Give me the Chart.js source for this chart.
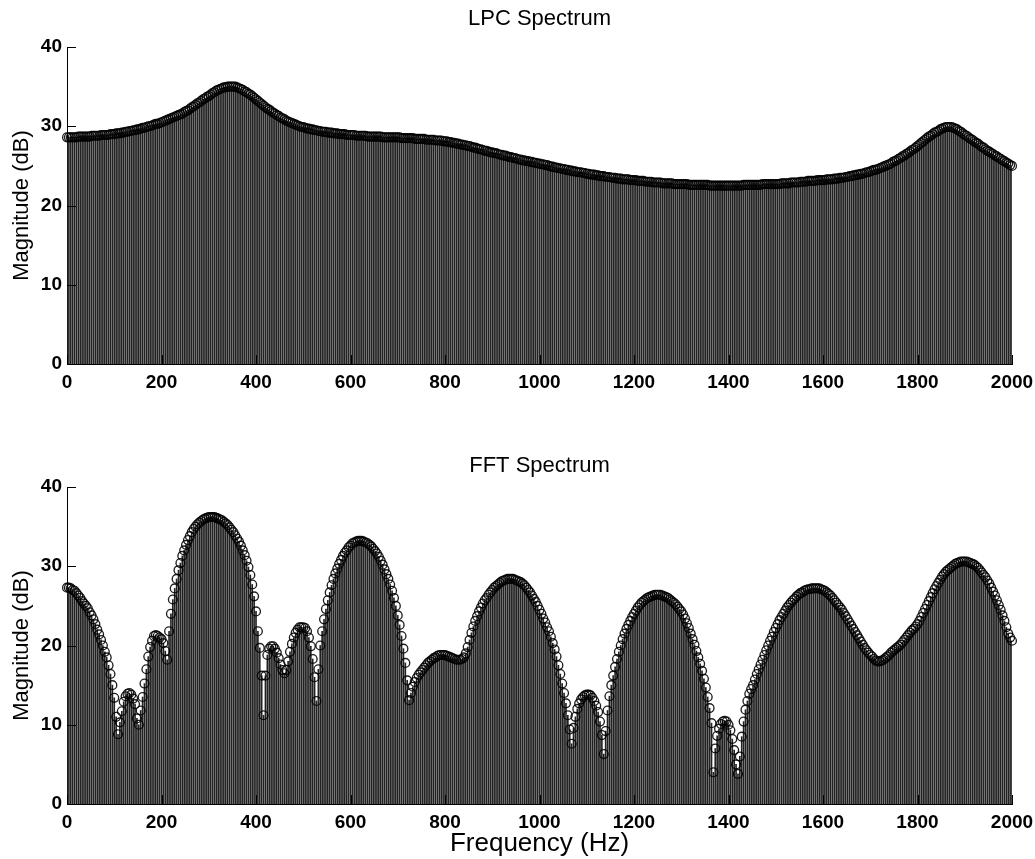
<!DOCTYPE html>
<html><head><meta charset="utf-8">
<script src="https://cdn.jsdelivr.net/npm/chart.js@4.4.0/dist/chart.umd.min.js"></script>
<style>
html,body{margin:0;padding:0;background:#fff;overflow:hidden;}
#top{position:absolute;left:0;top:0;width:1035px;height:430px;}
#bot{position:absolute;left:0;top:430px;width:1035px;height:429px;}
</style></head><body>
<div id="top"><canvas id="c1"></canvas></div>
<div id="bot"><canvas id="c2"></canvas></div>
<script>
// frequency grid (Hz), 4 Hz spacing, 0..2000
const freqHz = Array.from({length: 501}, (_, i) => i * 4);

const lpcDb = [
28.6,28.6,28.6,28.6,28.6,28.6,28.7,28.7,28.7,28.7,28.7,28.7,28.7,28.8,28.8,28.8,28.8,28.8,28.9,28.9,28.9,28.9,28.9,29.0,29.0,
29.0,29.1,29.1,29.1,29.2,29.2,29.3,29.3,29.4,29.4,29.5,29.5,29.6,29.6,29.7,29.8,29.8,29.9,30.0,30.0,30.1,30.2,30.3,30.3,30.4,
30.5,30.6,30.7,30.8,30.9,31.0,31.1,31.2,31.3,31.4,31.5,31.6,31.8,31.9,32.0,32.2,32.4,32.5,32.7,32.9,33.0,33.2,33.4,33.5,33.7,
33.8,34.0,34.2,34.3,34.5,34.6,34.7,34.8,34.9,34.9,35.0,35.0,35.0,35.0,35.0,34.9,34.8,34.7,34.6,34.4,34.3,34.1,34.0,33.8,33.6,
33.4,33.2,33.0,32.8,32.6,32.4,32.2,32.1,31.9,31.7,31.6,31.4,31.3,31.1,31.0,30.9,30.7,30.6,30.5,30.4,30.3,30.2,30.1,30.0,29.9,
29.9,29.8,29.7,29.7,29.6,29.6,29.5,29.5,29.4,29.4,29.3,29.3,29.3,29.2,29.2,29.2,29.1,29.1,29.1,29.0,29.0,29.0,29.0,28.9,28.9,
28.9,28.9,28.9,28.8,28.8,28.8,28.8,28.8,28.8,28.7,28.7,28.7,28.7,28.7,28.7,28.7,28.7,28.6,28.6,28.6,28.6,28.6,28.6,28.6,28.6,
28.6,28.6,28.5,28.5,28.5,28.5,28.5,28.5,28.5,28.4,28.4,28.4,28.4,28.4,28.4,28.3,28.3,28.3,28.3,28.3,28.2,28.2,28.2,28.2,28.1,
28.1,28.1,28.0,28.0,27.9,27.9,27.8,27.8,27.7,27.7,27.6,27.6,27.5,27.5,27.4,27.3,27.3,27.2,27.1,27.1,27.0,26.9,26.9,26.8,26.7,
26.7,26.6,26.6,26.5,26.4,26.4,26.3,26.3,26.2,26.1,26.1,26.0,26.0,25.9,25.8,25.8,25.7,25.7,25.6,25.6,25.5,25.5,25.4,25.4,25.3,
25.3,25.2,25.2,25.1,25.1,25.0,24.9,24.9,24.8,24.8,24.7,24.7,24.6,24.6,24.5,24.5,24.4,24.4,24.3,24.3,24.2,24.2,24.2,24.1,24.1,
24.0,24.0,23.9,23.9,23.9,23.8,23.8,23.7,23.7,23.7,23.6,23.6,23.6,23.5,23.5,23.5,23.4,23.4,23.4,23.3,23.3,23.3,23.3,23.2,23.2,
23.2,23.2,23.1,23.1,23.1,23.1,23.0,23.0,23.0,23.0,22.9,22.9,22.9,22.9,22.9,22.8,22.8,22.8,22.8,22.8,22.8,22.7,22.7,22.7,22.7,
22.7,22.7,22.7,22.7,22.6,22.6,22.6,22.6,22.6,22.6,22.6,22.6,22.6,22.6,22.6,22.5,22.5,22.5,22.5,22.5,22.5,22.5,22.5,22.5,22.5,
22.5,22.5,22.5,22.5,22.5,22.5,22.5,22.5,22.6,22.6,22.6,22.6,22.6,22.6,22.6,22.6,22.6,22.6,22.7,22.7,22.7,22.7,22.7,22.7,22.7,
22.7,22.7,22.7,22.8,22.8,22.8,22.8,22.8,22.9,22.9,22.9,22.9,22.9,23.0,23.0,23.0,23.0,23.1,23.1,23.1,23.1,23.1,23.2,23.2,23.2,
23.2,23.2,23.3,23.3,23.3,23.3,23.4,23.4,23.4,23.5,23.5,23.5,23.6,23.6,23.7,23.7,23.8,23.8,23.9,23.9,24.0,24.0,24.1,24.2,24.2,
24.3,24.4,24.5,24.5,24.6,24.7,24.8,24.9,25.0,25.1,25.2,25.3,25.5,25.6,25.7,25.9,26.0,26.2,26.3,26.5,26.6,26.8,27.0,27.1,27.3,
27.5,27.7,27.9,28.1,28.3,28.5,28.7,28.8,29.0,29.2,29.3,29.4,29.6,29.7,29.8,29.9,29.9,29.9,29.9,29.8,29.7,29.6,29.4,29.3,29.1,
28.9,28.8,28.6,28.4,28.3,28.1,27.9,27.8,27.6,27.4,27.3,27.1,26.9,26.8,26.6,26.5,26.3,26.2,26.0,25.9,25.7,25.6,25.4,25.3,25.1,
25.0];

const fftDb = [
27.3,27.3,27.2,27.0,26.9,26.6,26.3,26.0,25.6,25.3,25.0,24.7,24.2,23.8,23.3,22.7,22.0,21.4,20.7,20.0,19.2,18.5,17.5,16.4,15.0,
13.4,11.0,8.8,10.3,11.7,12.9,13.6,13.9,14.0,13.8,13.3,12.6,10.8,10.0,11.8,13.5,15.2,17.0,18.6,19.8,20.6,21.2,21.3,21.2,21.0,
20.8,20.3,19.3,18.2,21.8,24.0,25.8,27.2,28.4,29.5,30.4,31.3,32.0,32.7,33.3,33.8,34.3,34.7,35.0,35.3,35.5,35.7,35.9,36.0,36.1,
36.2,36.2,36.2,36.2,36.1,36.0,35.9,35.8,35.6,35.4,35.2,34.9,34.6,34.3,33.9,33.5,33.1,32.6,32.0,31.4,30.7,29.9,28.9,27.7,26.2,
24.3,21.8,19.7,16.2,11.2,16.2,18.8,19.6,19.9,19.9,19.6,19.1,18.4,17.6,16.9,16.5,16.9,18.0,19.2,20.2,21.0,21.6,22.0,22.3,22.3,
22.3,22.2,21.8,21.0,19.9,18.3,16.0,13.0,17.0,20.0,21.8,23.3,24.6,25.7,26.7,27.6,28.4,29.1,29.7,30.3,30.8,31.3,31.7,32.0,32.4,
32.6,32.9,33.0,33.1,33.2,33.2,33.2,33.1,33.0,32.9,32.7,32.5,32.2,31.9,31.6,31.2,30.7,30.2,29.6,29.0,28.4,27.7,26.9,26.0,25.0,
23.8,22.6,21.2,19.6,17.8,15.6,13.1,14.0,14.8,15.4,15.9,16.3,16.6,16.9,17.2,17.5,17.8,18.0,18.2,18.4,18.5,18.7,18.8,18.8,18.8,
18.8,18.7,18.6,18.5,18.4,18.3,18.2,18.2,18.2,18.3,18.5,19.0,19.8,20.7,21.6,22.4,23.1,23.7,24.3,24.8,25.3,25.7,26.0,26.4,26.7,
27.0,27.3,27.5,27.7,27.9,28.1,28.2,28.3,28.4,28.4,28.4,28.4,28.3,28.2,28.1,28.0,27.8,27.6,27.3,27.0,26.7,26.3,25.9,25.5,25.0,
24.5,24.0,23.4,22.9,22.3,21.8,21.1,20.3,19.5,18.6,17.5,16.4,15.2,14.0,12.7,11.2,9.4,7.6,9.6,11.0,12.0,12.7,13.2,13.5,13.7,
13.8,13.8,13.7,13.4,13.0,12.4,11.6,10.4,8.7,6.3,9.2,11.8,13.6,15.0,16.2,17.3,18.3,19.2,20.0,20.8,21.5,22.1,22.6,23.1,23.6,
24.0,24.4,24.8,25.1,25.4,25.6,25.8,26.0,26.1,26.2,26.3,26.4,26.4,26.4,26.4,26.3,26.2,26.1,26.0,25.8,25.6,25.4,25.2,24.9,24.6,
24.3,23.9,23.4,22.8,22.2,21.5,20.8,20.1,19.3,18.5,17.7,16.8,15.8,14.7,13.5,12.1,10.2,4.0,7.0,8.6,9.5,10.1,10.4,10.5,10.4,
10.0,9.3,8.2,6.8,5.0,3.8,6.0,8.5,10.4,11.9,13.0,13.9,14.5,15.0,15.7,16.4,17.0,17.6,18.2,18.8,19.4,20.0,20.6,21.1,21.7,
22.2,22.7,23.2,23.6,24.0,24.4,24.8,25.1,25.4,25.7,25.9,26.2,26.4,26.6,26.7,26.9,27.0,27.1,27.1,27.2,27.2,27.2,27.2,27.2,27.1,
27.0,26.9,26.7,26.5,26.3,26.0,25.7,25.4,25.1,24.8,24.5,24.1,23.7,23.3,22.9,22.5,22.1,21.7,21.3,20.9,20.5,20.1,19.7,19.4,19.1,
18.8,18.6,18.3,18.1,18.0,18.0,18.1,18.2,18.4,18.6,18.8,19.1,19.3,19.5,19.7,19.9,20.1,20.4,20.7,21.0,21.3,21.6,21.9,22.1,22.4,
22.7,23.1,23.6,24.1,24.6,25.1,25.6,26.1,26.6,27.1,27.5,27.9,28.3,28.7,29.0,29.3,29.5,29.7,29.9,30.1,30.3,30.4,30.5,30.6,30.6,
30.6,30.6,30.5,30.4,30.3,30.2,30.0,29.8,29.5,29.2,28.9,28.6,28.2,27.8,27.3,26.8,26.3,25.7,25.1,24.5,23.8,23.1,22.3,21.5,21.0,
20.6];

const xTickLabels = [0,200,400,600,800,1000,1200,1400,1600,1800,2000];
const yTickLabels = [0,10,20,30,40];

const FONT = '"Liberation Sans", Arial, Helvetica, sans-serif';

const innerTicks = {
  id: 'innerTicks',
  afterDatasetsDraw(chart) {
    const {ctx, chartArea: a, scales: {x, y}} = chart;
    ctx.save();
    ctx.strokeStyle = '#000';
    ctx.lineWidth = 1;
    ctx.beginPath();
    xTickLabels.forEach(v => {
      const px = Math.round(x.getPixelForValue(v)) + 0.5;
      ctx.moveTo(px, a.bottom); ctx.lineTo(px, a.bottom - 9);
    });
    yTickLabels.forEach(v => {
      const py = Math.round(y.getPixelForValue(v)) + 0.5;
      ctx.moveTo(a.left, py); ctx.lineTo(a.left + 9, py);
    });
    ctx.stroke();
    ctx.restore();
  }
};

function makeChart(id, values, cfg) {
  const pts = freqHz.map((f, i) => ({x: f, y: values[i]}));
  return new Chart(document.getElementById(id), {
    type: 'bar',
    data: {
      datasets: [
        {
          type: 'line', data: pts, showLine: false, order: 0, clip: false,
          pointStyle: 'circle', pointRadius: 4.4, pointBorderWidth: 1.35,
          pointBorderColor: 'rgba(0,0,0,0.88)', pointBackgroundColor: 'rgba(0,0,0,0)'
        },
        {
          type: 'bar', data: pts, order: 1, barThickness: 1.0, grouped: false,
          backgroundColor: '#222222', borderWidth: 0
        }
      ]
    },
    options: {
      responsive: true, maintainAspectRatio: false, animation: false,
      devicePixelRatio: 1,
      layout: {padding: {left: 0, right: 23, top: 0, bottom: 0}},
      plugins: {
        legend: {display: false}, tooltip: {enabled: false},
        title: {display: true, fullSize: false, text: cfg.title, color: '#000',
          font: {family: FONT, size: 22, weight: 'normal'},
          padding: cfg.titlePad}
      },
      scales: {
        x: {
          type: 'linear', min: 0, max: 2000, offset: false,
          afterBuildTicks: s => { s.ticks = xTickLabels.map(v => ({value: v})); },
          afterFit: s => { s.height = cfg.xHeight; s.paddingLeft = 0; s.paddingRight = 0; },
          grid: {display: false, drawTicks: false},
          border: {display: true, color: '#000', width: 1},
          ticks: {color: '#000', padding: 7, maxRotation: 0, autoSkip: false,
            callback: v => String(v),
            font: {family: FONT, size: 19, weight: 'bold'}},
          title: cfg.xTitle ? {display: true, text: cfg.xTitle, color: '#000',
            font: {family: FONT, size: 26, weight: 'normal'}, padding: {top: 0, bottom: 0}} : {display: false}
        },
        y: {
          min: 0, max: 40,
          afterBuildTicks: s => { s.ticks = yTickLabels.map(v => ({value: v})); },
          afterFit: s => { s.width = 67; },
          grid: {display: false, drawTicks: false},
          border: {display: true, color: '#000', width: 1},
          ticks: {color: '#000', padding: 5, autoSkip: false,
            callback: v => String(v),
            font: {family: FONT, size: 19, weight: 'bold'}},
          title: {display: true, text: 'Magnitude (dB)', color: '#000',
            font: {family: FONT, size: 22, weight: 'normal'}, padding: {top: 9, bottom: 0}}
        }
      }
    },
    plugins: [innerTicks]
  });
}

makeChart('c1', lpcDb, {title: 'LPC Spectrum', titlePad: {top: 6, bottom: 14.6}, xHeight: 66});
makeChart('c2', fftDb, {title: 'FFT Spectrum', titlePad: {top: 23, bottom: 7.6}, xHeight: 55, xTitle: 'Frequency (Hz)'});
</script>
</body></html>
